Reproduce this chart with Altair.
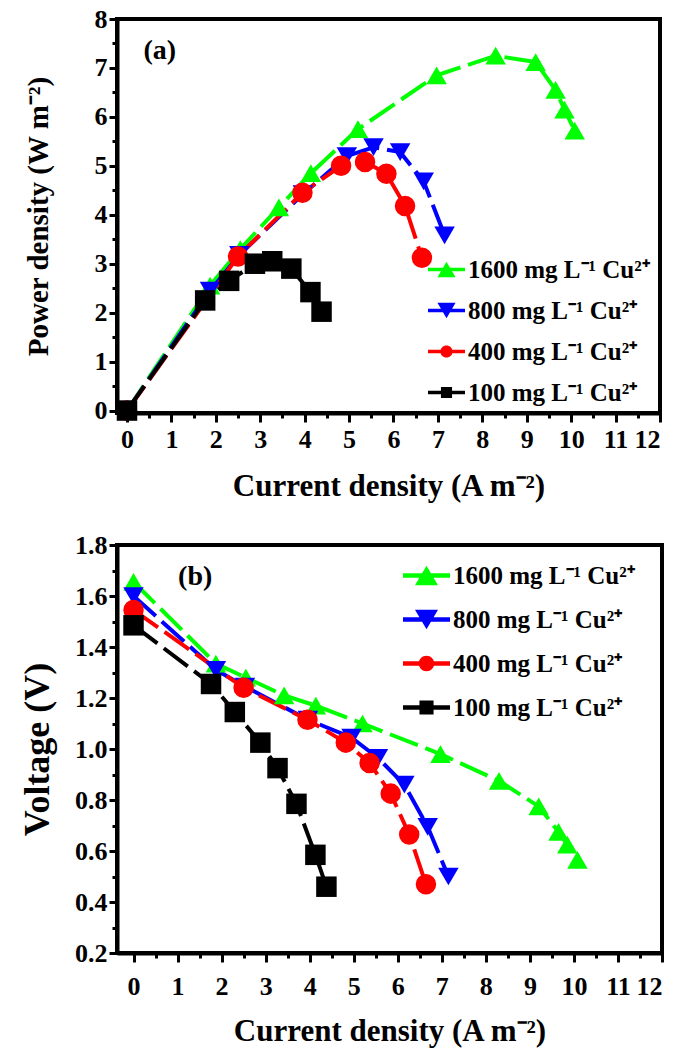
import altair as alt
import pandas as pd

FONT = "Liberation Serif"

SERIES = ["1600 mg L⁻¹ Cu²⁺", "800 mg L⁻¹ Cu²⁺", "400 mg L⁻¹ Cu²⁺", "100 mg L⁻¹ Cu²⁺"]
COLORS = ["#00ff00", "#0000ff", "#ff0000", "#000000"]
SHAPES = ["triangle-up", "triangle-down", "circle", "square"]
MARKER_SIZES = [420, 420, 320, 250]
LEGEND_PATHS = [
    "M-1,-0.1H1V0.1H-1Z M0,-0.42L0.49,0.42H-0.49Z",
    "M-1,-0.1H1V0.1H-1Z M-0.49,-0.42H0.49L0,0.42Z",
    "M-1,-0.1H1V0.1H-1Z M-0.33,0A0.33,0.33 0 1,1 0.33,0A0.33,0.33 0 1,1 -0.33,0Z",
    "M-1,-0.1H1V0.1H-1Z M-0.3,-0.3H0.3V0.3H-0.3Z",
]

# 1600 mg/L
cur_1600 = [0, 1.87, 2.55, 3.42, 4.14, 5.2, 6.97, 8.3, 9.2, 9.65, 9.85, 10.08]
pow_1600 = [0, 2.55, 3.3, 4.15, 4.85, 5.75, 6.85, 7.25, 7.12, 6.55, 6.15, 5.72]
vol_1600 = [1.655, 1.335, 1.28, 1.21, 1.17, 1.10, 0.98, 0.875, 0.775, 0.675, 0.625, 0.565]
# 800 mg/L
cur_800 = [0, 1.87, 2.53, 3.96, 4.95, 5.55, 6.15, 6.68, 7.15]
pow_800 = [0, 2.45, 3.18, 4.42, 5.2, 5.38, 5.28, 4.68, 3.58]
vol_800 = [1.60, 1.31, 1.245, 1.115, 1.045, 0.965, 0.86, 0.695, 0.50]
# 400 mg/L
cur_400 = [0, 2.5, 3.95, 4.82, 5.36, 5.84, 6.26, 6.64]
pow_400 = [0, 3.15, 4.45, 5.0, 5.08, 4.84, 4.18, 3.12]
vol_400 = [1.545, 1.24, 1.115, 1.025, 0.945, 0.825, 0.665, 0.47]
# 100 mg/L
cur_100 = [0, 1.76, 2.3, 2.88, 3.27, 3.7, 4.13, 4.38]
pow_100 = [0, 2.25, 2.65, 3.0, 3.05, 2.9, 2.42, 2.02]
vol_100 = [1.485, 1.255, 1.145, 1.025, 0.925, 0.785, 0.585, 0.46]

x_major = list(range(0, 13))
x_minor = [i * 0.5 for i in range(0, 25)]
p_major = list(range(0, 9))
p_minor = [i * 0.5 for i in range(0, 17)]
v_major = [0.2, 0.4, 0.6, 0.8, 1.0, 1.2, 1.4, 1.6, 1.8]
v_minor = [round(0.2 + 0.1 * i, 1) for i in range(0, 17)]

rows = []
for name, cur, pw, vo in zip(
    SERIES,
    [cur_1600, cur_800, cur_400, cur_100],
    [pow_1600, pow_800, pow_400, pow_100],
    [vol_1600, vol_800, vol_400, vol_100],
):
    for i, (c, p, v) in enumerate(zip(cur, pw, vo)):
        rows.append({"series": name, "idx": i, "current": c, "power": p, "voltage": v})
df = pd.DataFrame(rows)


def make_panel(ycol, ytitle, xdomain, ydomain, ymajor, yminor, yfmt,
               width, height, tag, legend_x, legend_y, legend_sym, legend_row,
               ytitle_pad, ytitle_lh, ytitle_size, xlabel_pad, xtitle_pad):
    xscale = alt.Scale(domain=xdomain, nice=False, zero=False)
    yscale = alt.Scale(domain=ydomain, nice=False, zero=False)
    xaxis = alt.Axis(values=x_major, format="d", title="Current density (A m⁻²)",
                     tickSize=9, labelPadding=xlabel_pad, titlePadding=xtitle_pad,
                     titleFontSize=31, labelOverlap=False, orient="bottom")
    yaxis = alt.Axis(values=ymajor, format=yfmt, title=ytitle, tickSize=8,
                     labelPadding=2, titlePadding=ytitle_pad, titleLineHeight=ytitle_lh,
                     titleFontSize=ytitle_size, labelOverlap=False, orient="left")
    xaxis_minor = alt.Axis(values=x_minor, labels=False, domain=False, title=None,
                           tickSize=5, orient="bottom")
    yaxis_minor = alt.Axis(values=yminor, labels=False, domain=False, title=None,
                           tickSize=5, orient="left")

    def xe(axis=None):
        return alt.X("current:Q", scale=xscale, axis=axis)

    def ye(axis=None):
        return alt.Y(f"{ycol}:Q", scale=yscale, axis=axis)

    color_plain = alt.Color("series:N", scale=alt.Scale(domain=SERIES, range=COLORS), legend=None)
    base = alt.Chart(df)

    lines = base.mark_line(strokeWidth=4, strokeDash=[30, 8]).encode(
        x=xe(xaxis), y=ye(yaxis), color=color_plain, detail="series:N", order="idx:Q"
    )
    points = base.mark_point(filled=True, opacity=1, strokeWidth=0).encode(
        x=xe(), y=ye(), color=color_plain,
        shape=alt.Shape("series:N", scale=alt.Scale(domain=SERIES, range=SHAPES), legend=None),
        size=alt.Size("series:N", scale=alt.Scale(domain=SERIES, range=MARKER_SIZES), legend=None),
    )
    leg = alt.Legend(title=None, orient="none", legendX=legend_x, legendY=legend_y,
                     symbolSize=legend_sym, labelFont=FONT, labelFontSize=25,
                     labelFontWeight="bold", labelColor="black", rowPadding=legend_row,
                     labelOffset=3, labelLimit=400, padding=0, symbolStrokeWidth=0)
    legend_layer = base.transform_filter("false").mark_point(filled=True, opacity=1).encode(
        x=xe(), y=ye(),
        color=alt.Color("series:N", scale=alt.Scale(domain=SERIES, range=COLORS), legend=leg),
        shape=alt.Shape("series:N", scale=alt.Scale(domain=SERIES, range=LEGEND_PATHS), legend=leg),
    )
    tag_df = pd.DataFrame({"current": [tag[0]], ycol: [tag[1]], "tag": [tag[2]]})
    tags = alt.Chart(tag_df).mark_text(font=FONT, fontSize=28, fontWeight="bold", color="black").encode(
        x=xe(), y=ye(), text="tag:N"
    )
    minor = base.transform_filter("false").mark_point().encode(
        x=xe(xaxis_minor), y=ye(yaxis_minor)
    )
    return (
        alt.layer(lines, points, legend_layer, tags, minor)
        .resolve_scale(color="independent", shape="independent", size="independent")
        .resolve_axis(x="independent", y="independent")
        .properties(width=width, height=height)
    )


top = make_panel(
    "power", ["", "Power density (W m⁻²)"], [-0.225, 12], [-0.05, 8],
    p_major, p_minor, "d", 543, 394,
    (0.74, 7.35, "(a)"), 311, 232, 1369, 9,
    41, 14, 29, 4, 19,
)
bottom = make_panel(
    "voltage", "Voltage (V)", [-0.375, 12], [0.2, 1.8],
    v_major, v_minor, ".1f", 545, 408,
    (1.40, 1.675, "(b)"), 286, 7, 2209, 7,
    18, 30, 36, 11, 17,
)

chart = (
    alt.vconcat(top, bottom, spacing=27,
                padding={"left": 0, "top": -4, "right": 0, "bottom": 0},
                background="white")
    .configure_view(stroke="black", strokeWidth=4)
    .configure_axis(
        domainColor="black", domainWidth=4, tickColor="black", tickWidth=3,
        labelFont=FONT, labelFontSize=26, labelFontWeight="bold", labelColor="black",
        titleFont=FONT, titleFontWeight="bold", titleColor="black",
        grid=False,
    )
)

chart.save("out.html", embed_options={"renderer": "svg", "actions": False})
